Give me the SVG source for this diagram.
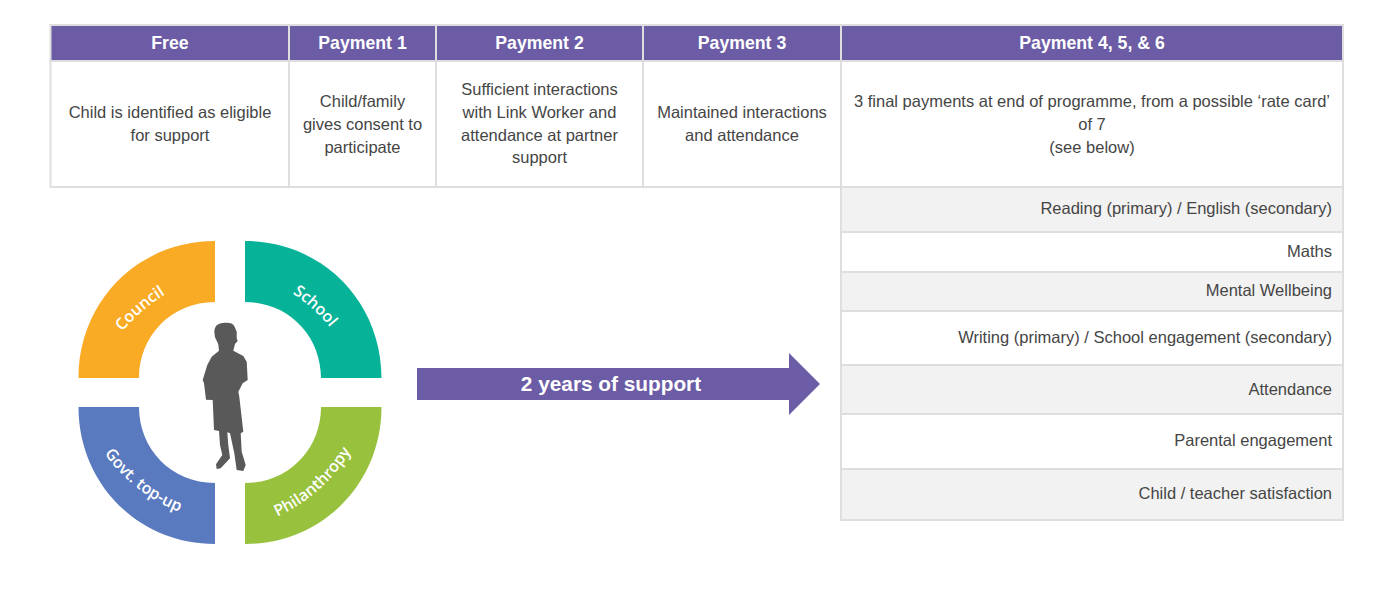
<svg xmlns="http://www.w3.org/2000/svg" width="1398" height="601" viewBox="0 0 1398 601">
<style>
text{font-family:"Liberation Sans",Arial,sans-serif}
.h{fill:#6b5ca5;stroke:#dedede;stroke-width:2}
.b{fill:#fff;stroke:#dedede;stroke-width:2}
.g{fill:#f2f2f2;stroke:#dedede;stroke-width:2}
.ht{font-size:17.7px;font-weight:700;fill:#fff;text-anchor:middle}
.t{font-size:16.5px;fill:#454545;text-anchor:middle}
.r{font-size:16.5px;fill:#454545;text-anchor:end}
.q{font-family:"Open Sans","Noto Sans",sans-serif;font-size:16px;font-weight:600;fill:#fff;text-anchor:middle}
</style>
<defs>
<path id="up" d="M-60 0A170 170 0 0 1 60 0"/>
<path id="dn" d="M-70 0A170 170 0 0 0 70 0"/>
</defs>
<g id="col-free"><rect class="h" x="50.500" y="25" width="238.500" height="36"/><rect class="b" x="50.500" y="61" width="238.500" height="126"/>
<text class="ht" x="170" y="48.500">Free</text><text class="t" x="170" y="118">Child is identified as eligible</text><text class="t" x="170" y="141">for support</text></g>
<g id="col-p1"><rect class="h" x="289" y="25" width="147" height="36"/><rect class="b" x="289" y="61" width="147" height="126"/>
<text class="ht" x="362.500" y="48.500">Payment 1</text><text class="t" x="362.500" y="107">Child/family</text><text class="t" x="362.500" y="130">gives consent to</text><text class="t" x="362.500" y="153">participate</text></g>
<g id="col-p2"><rect class="h" x="436" y="25" width="207" height="36"/><rect class="b" x="436" y="61" width="207" height="126"/>
<text class="ht" x="539.500" y="48.500">Payment 2</text><text class="t" x="539.500" y="95">Sufficient interactions</text><text class="t" x="539.500" y="118">with Link Worker and</text><text class="t" x="539.500" y="141">attendance at partner</text><text class="t" x="539.500" y="163">support</text></g>
<g id="col-p3"><rect class="h" x="643" y="25" width="198" height="36"/><rect class="b" x="643" y="61" width="198" height="126"/>
<text class="ht" x="742" y="48.500">Payment 3</text><text class="t" x="742" y="118">Maintained interactions</text><text class="t" x="742" y="141">and attendance</text></g>
<g id="col-p456"><rect class="h" x="841" y="25" width="502" height="36"/><rect class="b" x="841" y="61" width="502" height="126"/>
<text class="ht" x="1092" y="48.500">Payment 4, 5, &amp; 6</text><text class="t" x="1092" y="107">3 final payments at end of programme, from a possible ‘rate card’</text><text class="t" x="1092" y="130">of 7</text><text class="t" x="1092" y="153">(see below)</text></g>
<g id="row-reading"><rect class="g" x="841" y="187" width="502" height="45"/><text class="r" x="1332" y="214">Reading (primary) / English (secondary)</text></g>
<g id="row-maths"><rect class="b" x="841" y="232" width="502" height="40"/><text class="r" x="1332" y="257">Maths</text></g>
<g id="row-wellbeing"><rect class="g" x="841" y="272" width="502" height="39"/><text class="r" x="1332" y="296">Mental Wellbeing</text></g>
<g id="row-writing"><rect class="b" x="841" y="311" width="502" height="54"/><text class="r" x="1332" y="343">Writing (primary) / School engagement (secondary)</text></g>
<g id="row-attendance"><rect class="g" x="841" y="365" width="502" height="49"/><text class="r" x="1332" y="395">Attendance</text></g>
<g id="row-parental"><rect class="b" x="841" y="414" width="502" height="55"/><text class="r" x="1332" y="446">Parental engagement</text></g>
<g id="row-satisfaction"><rect class="g" x="841" y="469" width="502" height="51"/><text class="r" x="1332" y="499">Child / teacher satisfaction</text></g>
<g id="council"><path fill="#f9ab25" d="M78.500 378C78.500 302 137.600 241 215 241V302C171.300 302 139 336 139 378Z"/><text class="q" transform="translate(142.300 311.200) rotate(-40.800) translate(0 10.900)"><textPath href="#up" startOffset="50%">Council</textPath></text></g>
<g id="school"><path fill="#06b398" d="M245 241C322.400 241 381.500 302 381.500 378H321C321 336 288.700 302 245 302Z"/><text class="q" transform="translate(312.500 309) rotate(42) translate(0 10.900)"><textPath href="#up" startOffset="50%">School</textPath></text></g>
<g id="govt"><path fill="#5a7abf" d="M78.500 407C78.500 483 137.600 544 215 544V483C171.300 483 139 449 139 407Z"/><text class="q" transform="translate(137.500 488) rotate(38) translate(0 -15.100)"><textPath href="#dn" startOffset="50%">Govt. top-up</textPath></text></g>
<g id="philanthropy"><path fill="#98c13d" d="M245 544C322.400 544 381.500 483 381.500 407H321C321 449 288.700 483 245 483Z"/><text class="q" transform="translate(319 489.500) rotate(-41.600) translate(0 -15.100)"><textPath href="#dn" startOffset="50%">Philanthropy</textPath></text></g>
<g id="child"><path fill="#595959" d="M222.700 323C229 322.500 233 323 234.500 326.500L236.700 331.700L236.700 338.300L237.700 341L235 344L233.300 350.700L243.300 356L246.700 361.700L247.700 380L242.700 383.300L238.300 391.700L239.300 396.700L243.300 431.700L240.700 433.300L241.700 451.700L245.700 465L243.300 471L236.700 470L234.300 453.300L230 433.300L227.300 432.300L228.300 445L230 458.300L220.700 468.300L216.700 469L216 464.300L222.300 455L220 445L219 431L214 430L212.700 400L206 399.700L204 383.300L202.700 380L207.300 365L211.700 356.700L219 350.700L218.300 344.300L215 337.300L214.300 331.700C214.500 326 218 323.300 222.700 323Z"/></g>
<g id="connectors"><path fill="#6b5ca5" d="M417 368H789V353L820 384L789 415V400H417Z"/><text x="611" y="391" font-size="20.800" font-weight="700" fill="#fff" text-anchor="middle">2 years of support</text></g>
</svg>
